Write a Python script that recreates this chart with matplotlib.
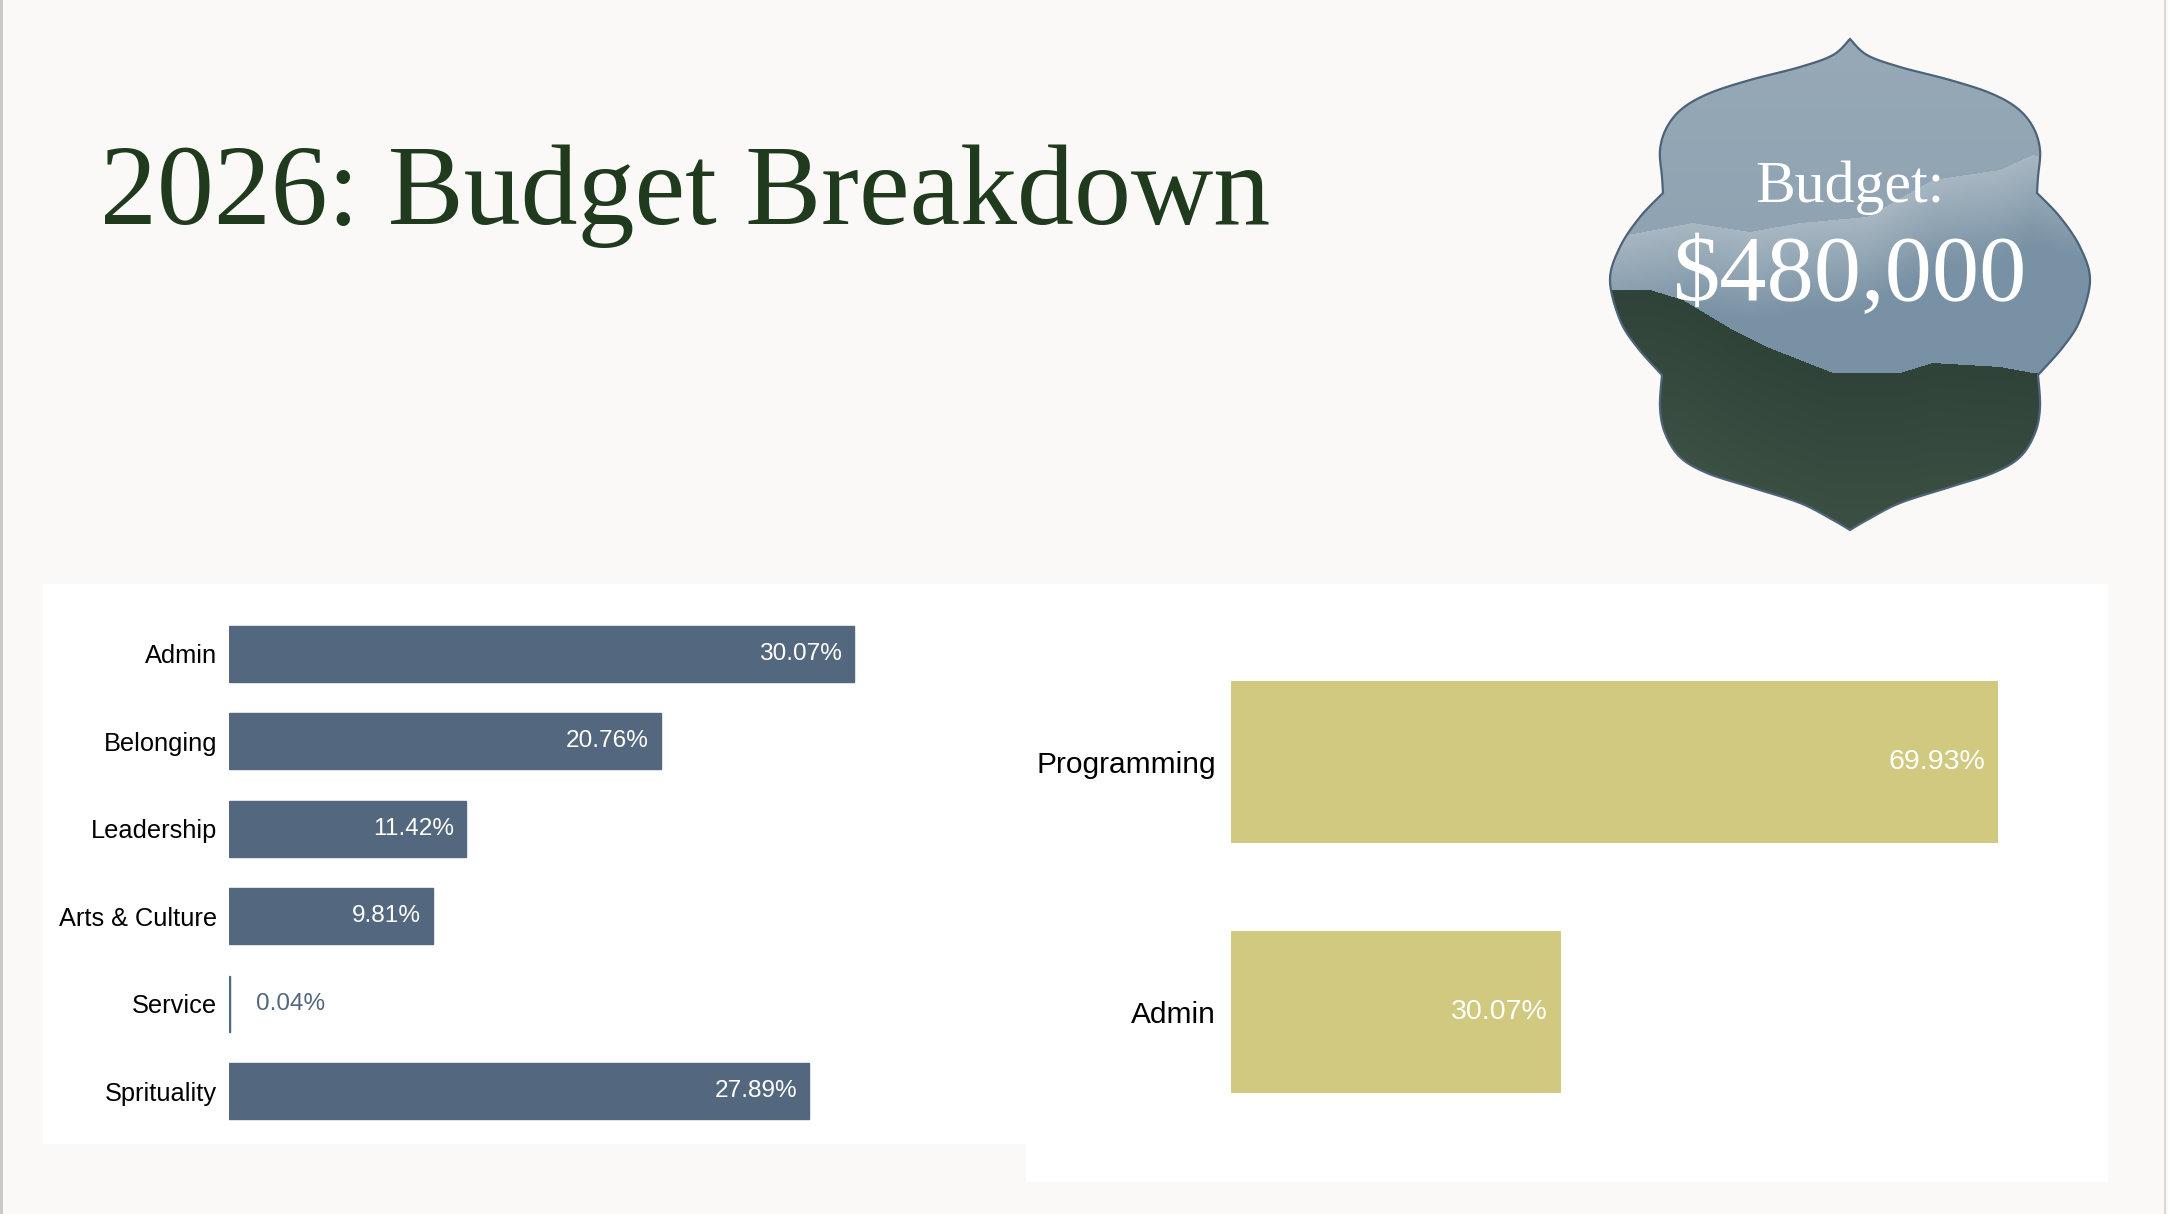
import numpy as np
import matplotlib
matplotlib.use("Agg")
import matplotlib.pyplot as plt
from matplotlib.path import Path
from matplotlib.patches import PathPatch, Rectangle

# data
dept_names = ["Admin", "Belonging", "Leadership", "Arts & Culture", "Service", "Sprituality"]
dept_share = [30.07, 20.76, 11.42, 9.81, 0.04, 27.89]
split_names = ["Programming", "Admin"]
split_share = [69.93, 30.07]
title = "2026: Budget Breakdown"
badge_top = "Budget:"
badge_total = "$480,000"

W, H = 2168, 1214
BG = "#faf9f7"
SLATE = "#53687e"
KHAKI = "#d2c981"
GREEN = "#1f3a1d"
SANS = ["Liberation Sans", "DejaVu Sans"]
SERIF = ["Liberation Serif", "DejaVu Serif"]


def fx(px):
    return px / W


def fy(py):
    return 1 - py / H


def catmull(pts, n=24):
    pts = np.asarray(pts, float)
    P = np.vstack([pts[0], pts, pts[-1]])
    out = []
    t = np.linspace(0, 1, n, endpoint=False)[:, None]
    for i in range(1, len(P) - 2):
        p0, p1, p2, p3 = P[i - 1], P[i], P[i + 1], P[i + 2]
        out.append(0.5 * (2 * p1 + (-p0 + p2) * t
                          + (2 * p0 - 5 * p1 + 4 * p2 - p3) * t ** 2
                          + (-p0 + 3 * p1 - 3 * p2 + p3) * t ** 3))
    out.append(P[-2][None])
    return np.vstack(out)


fig = plt.figure(figsize=(W / 100, H / 100), dpi=100, facecolor=BG)

# page edges and white panels (behind the axes)
for (x0, y0, x1, y1, c) in [(0, 0, 3, H, "#c9c9c9"), (2164, 0, 2166, H, "#d8d8d8"),
                            (43, 584, 1026, 1144, "white"),
                            (1026, 584, 2108, 1182, "white")]:
    fig.add_artist(Rectangle((fx(x0), fy(y1)), fx(x1 - x0), (y1 - y0) / H,
                             transform=fig.transFigure, color=c, lw=0, zorder=-5))

fig.text(fx(100), fy(224), title, family=SERIF, fontsize=82, color=GREEN,
         va="baseline", ha="left")

# badge
bx = fig.add_axes([fx(1580), fy(560), fx(540), 540 / H])
bx.set_xlim(1580, 2120)
bx.set_ylim(560, 20)
bx.axis("off")
cx = 1850
seg_a = [(0, 39), (17, 55), (50, 67), (100, 80), (140, 93), (167, 108),
         (183, 127), (190, 150), (188, 177), (187, 193)]
seg_b = [(187, 193), (210, 217), (230, 247), (240, 280), (230, 320),
         (213, 347), (188, 375)]
seg_c = [(188, 375), (190, 407), (185, 433), (170, 457), (143, 473),
         (100, 487), (50, 503), (17, 520), (0, 530)]
right = np.vstack([catmull(seg_a), catmull(seg_b)[1:], catmull(seg_c)[1:]])
left = right[::-1][1:-1] * np.array([-1, 1])
outline = np.vstack([right, left, right[:1]])
outline[:, 0] += cx
shape = Path(outline, closed=True)

hh, ww = 540, 540
yy, xx = np.mgrid[0:hh, 0:ww]
ys = 20 + yy + 0.5
xs = 1580 + xx + 0.5
sky_top = np.array([0x97, 0xa9, 0xb7]) / 255
sky_low = np.array([0x8f, 0xa3, 0xb2]) / 255
rock = np.array([0x78, 0x91, 0xa4]) / 255
snow = np.array([0xa8, 0xb7, 0xc2]) / 255
forest = np.array([0x30, 0x43, 0x39]) / 255
forest_low = np.array([0x3b, 0x4f, 0x42]) / 255
f = np.clip((ys - 40) / 200, 0, 1)[..., None]
img = sky_top * (1 - f) + sky_low * f
mx = [1600, 1693, 1750, 1800, 1867, 1933, 2000, 2033, 2100]
my = [240, 223, 232, 223, 217, 180, 170, 155, 175]
mtop = np.interp(xs, mx, my)
mtn = ys > mtop
g = np.clip((ys - mtop) / 90, 0, 1)[..., None]
mcol = snow * (1 - g) + rock * g
img = np.where(mtn[..., None], mcol, img)
rx = [1600, 1650, 1683, 1733, 1767, 1800, 1833, 1900, 1933, 2000, 2033, 2100]
ry = [290, 290, 300, 330, 347, 360, 373, 373, 363, 367, 373, 380]
ridge = np.interp(xs, rx, ry)
wood = ys > ridge
h = np.clip((ys - ridge) / 150, 0, 1)[..., None]
wcol = forest * (1 - h) + forest_low * h
img = np.where(wood[..., None], wcol, img)
im = bx.imshow(img, extent=(1580, 2120, 560, 20), aspect="auto", zorder=1)
patch = PathPatch(shape, facecolor="none", edgecolor="#4d6379", lw=1.6, zorder=3)
bx.add_patch(patch)
im.set_clip_path(patch)
bx.text(cx, 202, badge_top, family=SERIF, fontsize=43, color="white",
        ha="center", va="baseline", zorder=4)
bx.text(cx, 300, badge_total, family=SERIF, fontsize=68, color="white",
        ha="center", va="baseline", zorder=4)

# left chart: departments
ax1 = fig.add_axes([fx(229), 0.0653, fx(797), 0.432])
ax1.set_facecolor("none")
y1 = np.arange(len(dept_names))
bars1 = ax1.barh(y1, dept_share, height=0.643, color=SLATE,
                 edgecolor=SLATE, lw=1)
ax1.set_xlim(0, 38.34)
ax1.set_ylim(5.5, -0.5)
ax1.set_yticks(y1, dept_names, family=SANS, fontsize=18.3)
ax1.tick_params(axis="y", length=0, pad=8.5)
ax1.set_xticks([])
for s in ax1.spines.values():
    s.set_visible(False)
for b, v in zip(bars1, dept_share):
    yc = b.get_y() + b.get_height() / 2
    lab = f"{v:.2f}%"
    if v > 3:
        ax1.annotate(lab, (v, yc), xytext=(-8.5, 0), textcoords="offset points",
                     ha="right", va="center", color="white", family=SANS,
                     fontsize=17.6)
    else:
        ax1.annotate(lab, (v, yc), xytext=(18.5, 0), textcoords="offset points",
                     ha="left", va="center", color=SLATE, family=SANS,
                     fontsize=17.6)

# right chart: programming vs admin
ax2 = fig.add_axes([fx(1231), 0.0634, fx(877), 0.412])
ax2.set_facecolor("none")
y2 = np.arange(len(split_names))
bars2 = ax2.barh(y2, split_share, height=0.648, color=KHAKI, lw=0)
ax2.set_xlim(0, 79.95)
ax2.set_ylim(1.5, -0.5)
ax2.set_yticks(y2, split_names, family=SANS, fontsize=21.5)
ax2.tick_params(axis="y", length=0, pad=11)
ax2.set_xticks([])
for s in ax2.spines.values():
    s.set_visible(False)
for b, v in zip(bars2, split_share):
    yc = b.get_y() + b.get_height() / 2
    ax2.annotate(f"{v:.2f}%", (v, yc), xytext=(-9.5, 0), textcoords="offset points",
                 ha="right", va="center", color="white", family=SANS,
                 fontsize=20.5)

fig.savefig("out.png", dpi=100, facecolor=BG)
